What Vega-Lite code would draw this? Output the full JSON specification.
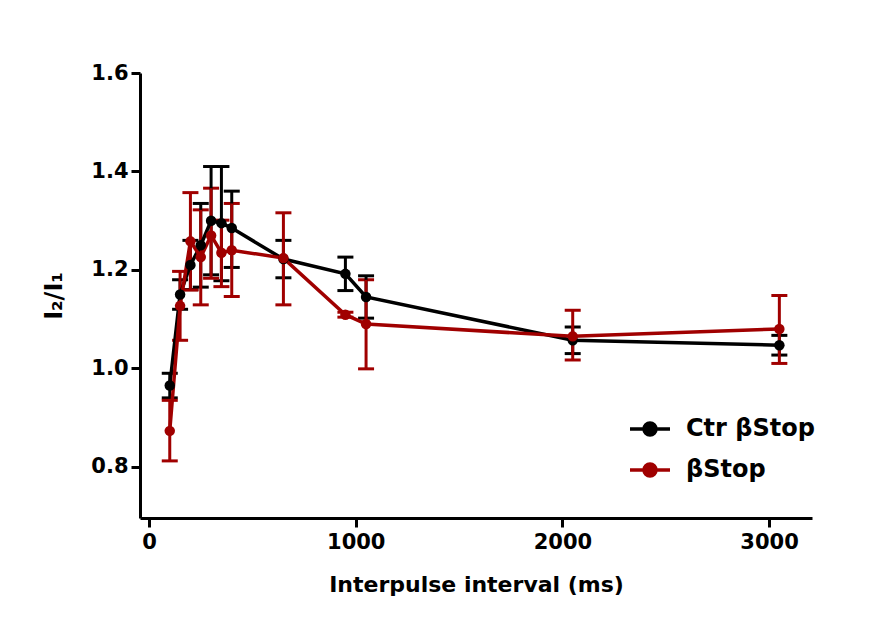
{
  "$schema": "https://vega.github.io/schema/vega-lite/v6.json",
  "width": 672,
  "height": 445,
  "autosize": {"type": "none"},
  "padding": {"left": 140, "top": 73, "right": 72, "bottom": 114},
  "background": "white",
  "config": {
    "view": {"stroke": null},
    "font": "DejaVu Sans",
    "axis": {
      "grid": false,
      "domainColor": "black",
      "domainWidth": 3,
      "tickColor": "black",
      "tickWidth": 3,
      "tickSize": 9,
      "labelFont": "DejaVu Sans",
      "labelFontWeight": "bold",
      "labelFontSize": 21,
      "labelColor": "black",
      "titleFont": "DejaVu Sans",
      "titleFontWeight": "bold",
      "titleFontSize": 22,
      "titleColor": "black"
    }
  },
  "data": {
    "values": [
      {"series": "Ctr βStop", "ipi": 100, "ratio": 0.965, "lo": 0.94, "hi": 0.99},
      {"series": "Ctr βStop", "ipi": 150, "ratio": 1.15, "lo": 1.12, "hi": 1.18},
      {"series": "Ctr βStop", "ipi": 200, "ratio": 1.21, "lo": 1.16, "hi": 1.26},
      {"series": "Ctr βStop", "ipi": 250, "ratio": 1.25, "lo": 1.165, "hi": 1.335},
      {"series": "Ctr βStop", "ipi": 300, "ratio": 1.30, "lo": 1.19, "hi": 1.41},
      {"series": "Ctr βStop", "ipi": 350, "ratio": 1.295, "lo": 1.178, "hi": 1.41},
      {"series": "Ctr βStop", "ipi": 400, "ratio": 1.285, "lo": 1.205, "hi": 1.36},
      {"series": "Ctr βStop", "ipi": 650, "ratio": 1.222, "lo": 1.184, "hi": 1.26},
      {"series": "Ctr βStop", "ipi": 950, "ratio": 1.192, "lo": 1.158, "hi": 1.226},
      {"series": "Ctr βStop", "ipi": 1050, "ratio": 1.145, "lo": 1.102, "hi": 1.188},
      {"series": "Ctr βStop", "ipi": 2050, "ratio": 1.057, "lo": 1.03, "hi": 1.084},
      {"series": "Ctr βStop", "ipi": 3050, "ratio": 1.047, "lo": 1.027, "hi": 1.067},
      {"series": "βStop", "ipi": 100, "ratio": 0.873, "lo": 0.812, "hi": 0.935},
      {"series": "βStop", "ipi": 150, "ratio": 1.127, "lo": 1.057, "hi": 1.197},
      {"series": "βStop", "ipi": 200, "ratio": 1.258, "lo": 1.159, "hi": 1.357},
      {"series": "βStop", "ipi": 250, "ratio": 1.226, "lo": 1.129, "hi": 1.322},
      {"series": "βStop", "ipi": 300, "ratio": 1.27, "lo": 1.183, "hi": 1.366},
      {"series": "βStop", "ipi": 350, "ratio": 1.235, "lo": 1.166, "hi": 1.301},
      {"series": "βStop", "ipi": 400, "ratio": 1.24, "lo": 1.146, "hi": 1.335},
      {"series": "βStop", "ipi": 650, "ratio": 1.224, "lo": 1.129, "hi": 1.316},
      {"series": "βStop", "ipi": 950, "ratio": 1.109, "lo": 1.104, "hi": 1.114},
      {"series": "βStop", "ipi": 1050, "ratio": 1.09, "lo": 0.999, "hi": 1.18},
      {"series": "βStop", "ipi": 2050, "ratio": 1.065, "lo": 1.017, "hi": 1.118},
      {"series": "βStop", "ipi": 3050, "ratio": 1.08, "lo": 1.01, "hi": 1.148}
    ]
  },
  "encoding": {
    "x": {
      "field": "ipi",
      "type": "quantitative",
      "scale": {"domain": [-44, 3208], "nice": false, "zero": false},
      "axis": {"values": [0, 1000, 2000, 3000], "format": "d", "title": "Interpulse interval (ms)", "labelPadding": 4, "titlePadding": 22}
    },
    "color": {
      "field": "series",
      "type": "nominal",
      "scale": {"domain": ["Ctr βStop", "βStop"], "range": ["#000000", "#a00000"]},
      "legend": {
        "title": null,
        "orient": "none",
        "legendX": 488,
        "legendY": 334,
        "symbolType": "M-1,0H1M-0.3,0A0.3,0.3,0,1,0,0.3,0A0.3,0.3,0,1,0,-0.3,0Z",
        "symbolSize": 1600,
        "symbolStrokeWidth": 3.5,
        "labelFont": "DejaVu Sans",
        "labelFontWeight": "bold",
        "labelFontSize": 24,
        "labelColor": "black",
        "labelOffset": 14,
        "rowPadding": 6,
        "encode": {
          "symbols": {
            "update": {
              "fill": {"scale": "color", "field": "value"},
              "stroke": {"scale": "color", "field": "value"},
              "opacity": {"value": 1}
            }
          }
        }
      }
    }
  },
  "layer": [
    {
      "mark": {"type": "errorbar", "ticks": {"size": 16, "thickness": 3, "opacity": 1}, "thickness": 3, "opacity": 1},
      "encoding": {
        "y": {
          "field": "lo",
          "type": "quantitative",
          "scale": {"domain": [0.696, 1.6], "nice": false, "zero": false},
          "axis": {"values": [0.8, 1.0, 1.2, 1.4, 1.6], "format": ".1f", "labelPadding": 3, "titlePadding": 24, "titleFontSize": 24},
          "title": "I₂/I₁"
        },
        "y2": {"field": "hi"}
      }
    },
    {
      "mark": {"type": "line", "strokeWidth": 3.5},
      "encoding": {
        "y": {"field": "ratio", "type": "quantitative", "title": "I₂/I₁"}
      }
    },
    {
      "mark": {"type": "point", "filled": true, "size": 110, "opacity": 1},
      "encoding": {
        "y": {"field": "ratio", "type": "quantitative", "title": "I₂/I₁"}
      }
    }
  ]
}
